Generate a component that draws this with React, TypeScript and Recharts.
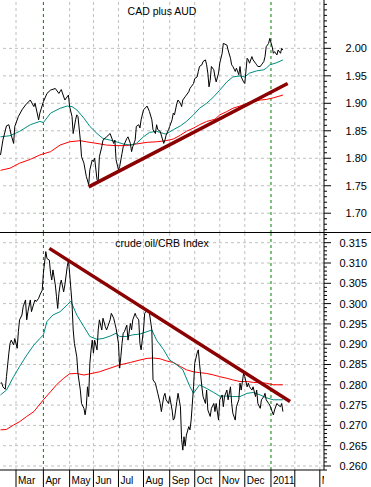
import React from "react";
import { LineChart, Line, XAxis, YAxis, ReferenceLine } from "recharts";

// x = trading-day index (0 = 1 Mar 2010)
const monthTicks = [0, 23, 45, 65, 86, 107, 129, 150, 171, 192, 214, 234, 255];
const monthLabels = ["Mar", "Apr", "May", "Jun", "Jul", "Aug", "Sep", "Oct", "Nov", "Dec", "2011", "", "Mar"];
const greenMonths = [23, 214];

const topMajor = [1.7, 1.75, 1.8, 1.85, 1.9, 1.95, 2.0];
const bottomMajor = [0.26, 0.265, 0.27, 0.275, 0.28, 0.285, 0.29, 0.295, 0.3, 0.305, 0.31, 0.315];

const cadAud: [number, number][] = [
  [-13, 1.806], [-11, 1.833], [-8, 1.859], [-6, 1.861], [-5, 1.852], [-4, 1.842], [-2, 1.827], [-1, 1.858],
  [2, 1.876], [5, 1.888], [8, 1.897], [12, 1.906], [15, 1.894], [16, 1.9], [19, 1.87], [20, 1.882],
  [23, 1.903], [26, 1.918], [29, 1.924], [33, 1.927], [36, 1.918], [38, 1.925], [41, 1.906], [44, 1.915],
  [45, 1.894], [47, 1.876], [48, 1.845], [50, 1.87], [51, 1.879], [52, 1.876], [54, 1.833], [55, 1.803],
  [57, 1.791], [58, 1.779], [59, 1.767], [61, 1.752], [62, 1.779], [64, 1.797], [65, 1.794], [66, 1.8],
  [68, 1.761], [69, 1.758], [70, 1.803], [72, 1.821], [73, 1.833], [76, 1.839], [79, 1.845], [82, 1.827],
  [83, 1.833], [84, 1.797], [86, 1.779], [87, 1.785], [89, 1.809], [90, 1.821], [93, 1.836], [94, 1.839],
  [96, 1.827], [97, 1.812], [98, 1.821], [100, 1.833], [101, 1.858], [103, 1.861], [104, 1.855], [105, 1.87],
  [107, 1.888], [110, 1.895], [112, 1.885], [114, 1.87], [115, 1.852], [117, 1.845], [118, 1.861], [119, 1.852],
  [121, 1.849], [124, 1.827], [125, 1.833], [126, 1.842], [128, 1.852], [129, 1.858], [131, 1.87], [132, 1.882],
  [133, 1.879], [135, 1.9], [136, 1.906], [138, 1.9], [139, 1.894], [140, 1.906], [142, 1.912], [143, 1.915],
  [145, 1.921], [146, 1.927], [147, 1.93], [149, 1.936], [150, 1.945], [152, 1.948], [153, 1.958], [154, 1.967],
  [156, 1.97], [157, 1.976], [159, 1.979], [160, 1.97], [161, 1.955], [162, 1.93], [163, 1.942], [164, 1.967],
  [166, 1.961], [167, 1.948], [168, 1.939], [170, 1.955], [171, 1.973], [173, 1.991], [174, 2.009], [177, 2.006],
  [178, 1.997], [180, 1.982], [181, 1.97], [182, 1.967], [184, 1.958], [185, 1.964], [187, 1.952], [188, 1.967],
  [189, 1.948], [191, 1.939], [192, 1.936], [194, 1.982], [195, 1.979], [196, 1.973], [198, 1.985], [199, 1.979],
  [201, 1.973], [202, 1.97], [203, 1.967], [205, 1.967], [206, 1.97], [208, 1.976], [209, 1.985], [210, 2.003],
  [212, 2.009], [213, 2.018], [215, 2.003], [216, 1.991], [217, 1.994], [219, 1.988], [220, 1.997], [222, 1.991],
  [223, 2.0], [224, 1.997],
];

const cadAudMa50: [number, number][] = [
  [-13, 1.839], [-5, 1.841], [3, 1.849], [12, 1.861], [20, 1.867], [23, 1.865], [29, 1.882], [37, 1.891],
  [43, 1.895], [47, 1.894], [51, 1.888], [57, 1.873], [62, 1.858], [68, 1.845], [73, 1.836], [79, 1.833],
  [84, 1.83], [90, 1.826], [96, 1.824], [101, 1.827], [107, 1.839], [112, 1.847], [118, 1.849], [124, 1.845],
  [126, 1.844], [132, 1.852], [138, 1.859], [143, 1.867], [149, 1.879], [154, 1.891], [160, 1.9], [166, 1.912],
  [171, 1.924], [177, 1.939], [182, 1.948], [188, 1.95], [192, 1.948], [196, 1.955], [202, 1.959], [208, 1.961],
  [210, 1.964], [213, 1.97], [219, 1.974], [224, 1.979],
];

const cadAudMa200: [number, number][] = [
  [-13, 1.778], [-5, 1.782], [3, 1.791], [12, 1.798], [20, 1.806], [29, 1.812], [37, 1.824], [45, 1.83],
  [54, 1.832], [59, 1.83], [68, 1.827], [76, 1.824], [84, 1.823], [93, 1.823], [101, 1.826], [110, 1.829],
  [118, 1.83], [126, 1.832], [132, 1.835], [138, 1.842], [143, 1.849], [149, 1.855], [154, 1.861], [160, 1.867],
  [167, 1.871], [171, 1.879], [177, 1.885], [182, 1.891], [188, 1.895], [194, 1.9], [199, 1.903], [205, 1.906],
  [210, 1.907], [216, 1.91], [224, 1.915],
];

const cadAudTrend: [number, number][] = [[61, 1.748], [228, 1.936]];

const oilCrb: [number, number][] = [
  [-13, 0.2804], [-12, 0.2805], [-11, 0.2795], [-9, 0.2789], [-8, 0.282], [-6, 0.2878], [-5, 0.2902], [-4, 0.291],
  [-2, 0.2898], [-1, 0.2914], [1, 0.289], [2, 0.2931], [3, 0.296], [5, 0.2972], [6, 0.2992], [8, 0.3009],
  [9, 0.296], [10, 0.298], [12, 0.3009], [13, 0.298], [15, 0.3001], [16, 0.3009], [17, 0.3005], [19, 0.3013],
  [20, 0.3021], [22, 0.3033], [23, 0.3075], [25, 0.3128], [26, 0.3111], [28, 0.3107], [29, 0.3075], [30, 0.3058],
  [31, 0.3083], [33, 0.3046], [34, 0.3017], [35, 0.2988], [36, 0.3025], [37, 0.3046], [38, 0.3058], [40, 0.3029],
  [41, 0.3046], [43, 0.3091], [44, 0.3107], [45, 0.3075], [47, 0.3001], [48, 0.2935], [49, 0.2902], [50, 0.2886],
  [51, 0.2869], [52, 0.2828], [54, 0.2787], [55, 0.2754], [57, 0.2742], [58, 0.2726], [59, 0.2746], [60, 0.2795],
  [61, 0.2771], [62, 0.2853], [63, 0.2886], [64, 0.291], [65, 0.2878], [66, 0.291], [68, 0.2886], [69, 0.2935],
  [70, 0.296], [72, 0.2935], [73, 0.2964], [75, 0.2943], [76, 0.2935], [77, 0.2943], [79, 0.296], [80, 0.2976],
  [82, 0.2964], [83, 0.2951], [84, 0.2939], [86, 0.2902], [87, 0.2841], [88, 0.2869], [89, 0.2902], [90, 0.2927],
  [91, 0.2931], [93, 0.2947], [94, 0.291], [96, 0.2951], [97, 0.2935], [98, 0.296], [100, 0.2976], [101, 0.2968],
  [103, 0.296], [104, 0.2902], [105, 0.2886], [107, 0.2935], [108, 0.2976], [110, 0.2984], [111, 0.298], [112, 0.2976],
  [114, 0.2935], [115, 0.2812], [117, 0.2804], [118, 0.2791], [119, 0.2779], [121, 0.2754], [122, 0.2734], [124, 0.2771],
  [125, 0.2779], [126, 0.2763], [128, 0.2754], [129, 0.2771], [131, 0.2738], [132, 0.2713], [133, 0.2717], [135, 0.2759],
  [136, 0.2779], [138, 0.2746], [139, 0.2665], [140, 0.2639], [141, 0.2672], [142, 0.2649], [143, 0.2676], [145, 0.2697],
  [146, 0.2689], [147, 0.2713], [149, 0.2795], [150, 0.2853], [152, 0.2878], [153, 0.2886], [154, 0.2853], [156, 0.2795],
  [157, 0.2771], [159, 0.2754], [160, 0.2787], [161, 0.2738], [163, 0.2722], [164, 0.2742], [166, 0.2754], [167, 0.2734],
  [168, 0.2754], [170, 0.2713], [171, 0.2763], [173, 0.2775], [174, 0.2746], [175, 0.2771], [177, 0.2787], [178, 0.2763],
  [180, 0.2795], [181, 0.2754], [182, 0.273], [184, 0.2713], [185, 0.2746], [187, 0.2763], [188, 0.2804], [189, 0.2787],
  [191, 0.2828], [192, 0.282], [194, 0.2795], [195, 0.2804], [196, 0.2795], [198, 0.2787], [199, 0.2795], [201, 0.2771],
  [202, 0.2787], [203, 0.2754], [205, 0.2742], [206, 0.2763], [208, 0.2771], [209, 0.2779], [210, 0.2763], [212, 0.2754],
  [213, 0.275], [215, 0.2734], [216, 0.2726], [217, 0.2738], [219, 0.2754], [220, 0.275], [222, 0.2746], [223, 0.2754],
  [224, 0.2734],
];

const oilCrbMa50: [number, number][] = [
  [-13, 0.2775], [-8, 0.2787], [-2, 0.282], [3, 0.2845], [9, 0.2873], [15, 0.2898], [20, 0.2914], [23, 0.2923],
  [26, 0.2956], [31, 0.2972], [37, 0.298], [43, 0.2997], [46, 0.3006], [51, 0.2972], [57, 0.2943], [62, 0.2919],
  [68, 0.2912], [73, 0.2914], [79, 0.292], [84, 0.2927], [87, 0.2919], [93, 0.2919], [98, 0.2923], [104, 0.2925],
  [110, 0.2931], [114, 0.2935], [118, 0.291], [124, 0.2886], [129, 0.2861], [135, 0.2849], [140, 0.2837], [146, 0.2795],
  [149, 0.2779], [154, 0.28], [160, 0.2791], [166, 0.2781], [171, 0.2772], [177, 0.2772], [182, 0.2771], [188, 0.2771],
  [194, 0.2779], [199, 0.2781], [205, 0.2775], [210, 0.2768], [216, 0.2763], [224, 0.2763],
];

const oilCrbMa200: [number, number][] = [
  [-13, 0.2689], [-8, 0.269], [-2, 0.2701], [3, 0.2709], [9, 0.2722], [15, 0.2734], [23, 0.2763], [29, 0.2783],
  [34, 0.28], [40, 0.2816], [45, 0.2827], [51, 0.2828], [57, 0.2824], [62, 0.2827], [70, 0.2832], [79, 0.2841],
  [87, 0.2849], [96, 0.2855], [104, 0.2861], [110, 0.2865], [115, 0.2866], [121, 0.2864], [126, 0.2859], [132, 0.2855],
  [138, 0.2845], [143, 0.2837], [149, 0.2832], [154, 0.283], [160, 0.2828], [166, 0.2824], [171, 0.282], [177, 0.2816],
  [182, 0.2812], [188, 0.2808], [194, 0.2808], [199, 0.2806], [205, 0.2805], [210, 0.2804], [216, 0.28], [224, 0.28],
];

const oilCrbTrend: [number, number][] = [[28, 0.3136], [230, 0.2759]];

const toRows = (a: [number, number][]) => a.map(([t, v]) => ({ t, v }));

const X_DOMAIN: [number, number] = [-13.43, 258.5];
const TOP_DOMAIN: [number, number] = [1.664, 2.088];
const BOTTOM_DOMAIN: [number, number] = [0.25901, 0.31739];

const topTicks = Array.from({ length: 42 }, (_, i) => (167 + i) / 100);
const bottomTicks = Array.from({ length: 59 }, (_, i) => (259 + i) / 1000);

const FONT = "'Liberation Sans', Arial, sans-serif";
const GRID = "#c0c0c0";
const GREEN = "#008000";
const DASH = "3 3";

const isIn = (list: number[], v: number) => list.some((m) => Math.abs(m - v) < 1e-7);

const makeYTick = (majors: number[], digits: number) => (props: any) => {
  const { x, y, payload } = props;
  const v = payload.value as number;
  const major = isIn(majors, v);
  return (
    <g>
      <line x1={x} y1={y} x2={x + (major ? 7 : 3)} y2={y} stroke="#000" strokeWidth={1} />
      {major && (
        <text x={367} y={y + 4} textAnchor="end" fontSize={11} fontFamily={FONT} fill="#000">
          {v.toFixed(digits)}
        </text>
      )}
    </g>
  );
};

const XTick = (props: any) => {
  const { x, y, index } = props;
  const label = monthLabels[index] ?? "";
  const id = `xclip-${index}`;
  return (
    <g>
      <defs>
        <clipPath id={id}>
          <rect x={0} y={y} width={324} height={20} />
        </clipPath>
      </defs>
      <line x1={x} y1={y} x2={x} y2={y + 17} stroke="#000" strokeWidth={1} />
      <text x={x + 2} y={y + 14} fontSize={10} fontFamily={FONT} fill="#000" clipPath={`url(#${id})`}>
        {label}
      </text>
    </g>
  );
};

const verticalGrid = () =>
  monthTicks.map((m) => (
    <ReferenceLine
      key={`vx${m}`}
      x={m}
      stroke={isIn(greenMonths, m) ? GREEN : GRID}
      strokeDasharray={DASH}
      strokeWidth={1}
    />
  ));

const horizontalGrid = (vals: number[]) =>
  vals.map((v) => (
    <ReferenceLine key={`hy${v}`} y={v} stroke={GRID} strokeDasharray={DASH} strokeWidth={1} />
  ));

const seriesLines = (
  price: [number, number][],
  ma50: [number, number][],
  ma200: [number, number][],
  trend: [number, number][]
) => [
  <Line key="ma200" data={toRows(ma200)} dataKey="v" type="linear" stroke="#ff0000" strokeWidth={1} dot={false} activeDot={false} isAnimationActive={false} />,
  <Line key="ma50" data={toRows(ma50)} dataKey="v" type="linear" stroke="#008c80" strokeWidth={1} dot={false} activeDot={false} isAnimationActive={false} />,
  <Line key="price" data={toRows(price)} dataKey="v" type="linear" stroke="#000" strokeWidth={1} dot={false} activeDot={false} isAnimationActive={false} />,
  <Line key="trend" data={toRows(trend)} dataKey="v" type="linear" stroke="#8b0000" strokeWidth={3.5} dot={false} activeDot={false} isAnimationActive={false} />,
];

export default function App() {
  return (
    <div style={{ position: "absolute", left: 0, top: 0, width: 371, height: 487, background: "#fff" }}>
      <div style={{ position: "absolute", left: 0, top: 0 }}>
        <LineChart width={371} height={233} margin={{ top: 0, right: 0, bottom: 0, left: 0 }}>
          <XAxis dataKey="t" type="number" domain={X_DOMAIN} allowDataOverflow hide />
          <YAxis
            orientation="right"
            type="number"
            domain={TOP_DOMAIN}
            allowDataOverflow
            width={47}
            ticks={topTicks}
            interval={0}
            tickLine={false}
            tickSize={0}
            tickMargin={0}
            axisLine={{ stroke: "#000" }}
            tick={makeYTick(topMajor, 2)}
          />
          {horizontalGrid(topMajor)}
          {verticalGrid()}
          {seriesLines(cadAud, cadAudMa50, cadAudMa200, cadAudTrend)}
        </LineChart>
      </div>
      <div style={{ position: "absolute", left: 0, top: 233 }}>
        <LineChart width={371} height={254} margin={{ top: 0, right: 0, bottom: 0, left: 0 }}>
          <XAxis
            dataKey="t"
            type="number"
            domain={X_DOMAIN}
            allowDataOverflow
            height={17}
            ticks={monthTicks}
            interval={0}
            tickLine={false}
            tickSize={0}
            tickMargin={0}
            axisLine={{ stroke: "#000" }}
            tick={<XTick />}
          />
          <YAxis
            orientation="right"
            type="number"
            domain={BOTTOM_DOMAIN}
            allowDataOverflow
            width={47}
            ticks={bottomTicks}
            interval={0}
            tickLine={false}
            tickSize={0}
            tickMargin={0}
            axisLine={{ stroke: "#000" }}
            tick={makeYTick(bottomMajor, 3)}
          />
          {horizontalGrid(bottomMajor)}
          {verticalGrid()}
          {seriesLines(oilCrb, oilCrbMa50, oilCrbMa200, oilCrbTrend)}
        </LineChart>
      </div>
      <div style={{ position: "absolute", left: 0, top: 232, width: 371, height: 1, background: "#000" }} />
      <div
        style={{
          position: "absolute", left: 0, top: 5, width: 324, textAlign: "center",
          fontFamily: FONT, fontSize: 10.5, lineHeight: "12px", color: "#000",
        }}
      >
        CAD plus AUD
      </div>
      <div
        style={{
          position: "absolute", left: 0, top: 237, width: 324, textAlign: "center",
          fontFamily: FONT, fontSize: 10.5, lineHeight: "12px", color: "#000",
        }}
      >
        crude oil/CRB Index
      </div>
    </div>
  );
}
